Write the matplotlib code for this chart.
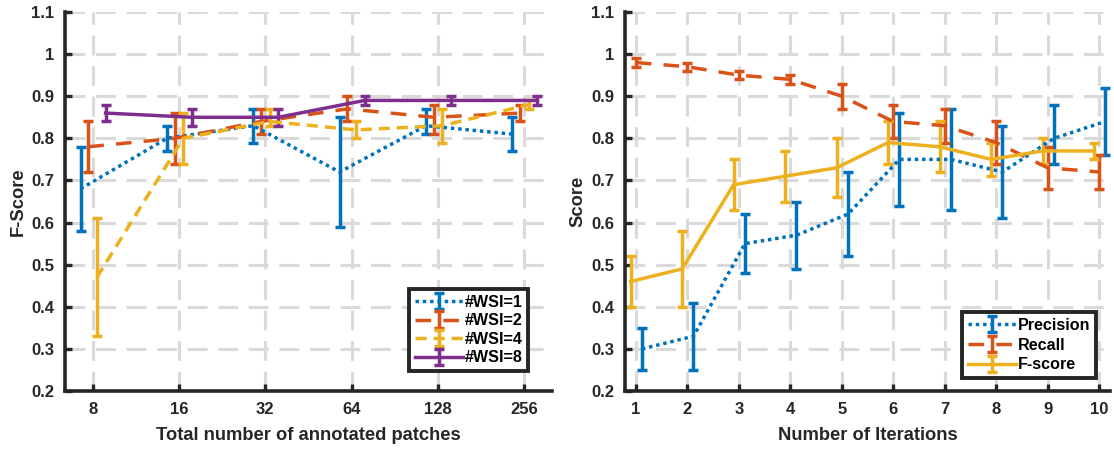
import matplotlib
matplotlib.use("Agg")
import matplotlib.pyplot as plt
import numpy as np

plt.rcParams['font.family'] = ['Liberation Sans', 'DejaVu Sans']
plt.rcParams['font.weight'] = 'bold'

# ---------------- Left panel data ----------------
patch_labels = ['8', '16', '32', '64', '128', '256']
wsi_names = ['#WSI=1', '#WSI=2', '#WSI=4', '#WSI=8']
wsi1_mean = [0.68, 0.80, 0.83, 0.72, 0.83, 0.81]
wsi1_low = [0.58, 0.77, 0.79, 0.59, 0.81, 0.77]
wsi1_high = [0.78, 0.83, 0.87, 0.85, 0.87, 0.85]
wsi2_mean = [0.78, 0.80, 0.84, 0.87, 0.85, 0.86]
wsi2_low = [0.72, 0.74, 0.81, 0.84, 0.81, 0.84]
wsi2_high = [0.84, 0.86, 0.87, 0.90, 0.88, 0.88]
wsi4_mean = [0.47, 0.80, 0.84, 0.82, 0.83, 0.88]
wsi4_low = [0.33, 0.74, 0.83, 0.80, 0.79, 0.87]
wsi4_high = [0.61, 0.86, 0.87, 0.84, 0.87, 0.89]
wsi8_mean = [0.86, 0.85, 0.85, 0.89, 0.89, 0.89]
wsi8_low = [0.84, 0.83, 0.83, 0.88, 0.88, 0.88]
wsi8_high = [0.88, 0.87, 0.87, 0.90, 0.90, 0.90]

# ---------------- Right panel data ----------------
iterations = [1, 2, 3, 4, 5, 6, 7, 8, 9, 10]
prec_mean = [0.30, 0.33, 0.55, 0.57, 0.62, 0.75, 0.75, 0.72, 0.80, 0.84]
prec_low = [0.25, 0.25, 0.48, 0.49, 0.52, 0.64, 0.63, 0.61, 0.74, 0.76]
prec_high = [0.35, 0.41, 0.62, 0.65, 0.72, 0.86, 0.87, 0.83, 0.88, 0.92]
rec_mean = [0.98, 0.97, 0.95, 0.94, 0.90, 0.84, 0.83, 0.79, 0.73, 0.72]
rec_low = [0.97, 0.96, 0.94, 0.93, 0.87, 0.80, 0.79, 0.74, 0.68, 0.68]
rec_high = [0.99, 0.98, 0.96, 0.95, 0.93, 0.88, 0.87, 0.84, 0.78, 0.76]
f_mean = [0.46, 0.49, 0.69, 0.71, 0.73, 0.79, 0.78, 0.75, 0.77, 0.77]
f_low = [0.40, 0.40, 0.63, 0.65, 0.66, 0.74, 0.72, 0.71, 0.74, 0.75]
f_high = [0.52, 0.58, 0.75, 0.77, 0.80, 0.84, 0.84, 0.79, 0.80, 0.79]

C_BLUE = '#0072BD'
C_ORANGE = '#D95319'
C_YELLOW = '#EDB120'
C_PURPLE = '#7E2F8E'
C_TEXT = '#262626'

fig = plt.figure(figsize=(11.14, 4.51), dpi=100)
axL = fig.add_axes([65 / 1114, 60 / 451, 487 / 1114, 379 / 451])
axR = fig.add_axes([625 / 1114, 60 / 451, 485 / 1114, 379 / 451])

LW = 2.5
CAP = 3.4
CAPT = 2.5

def style_ax(ax):
    for s in ['top', 'right']:
        ax.spines[s].set_visible(False)
    for s in ['left', 'bottom']:
        ax.spines[s].set_linewidth(2.6)
        ax.spines[s].set_color(C_TEXT)
    ax.tick_params(direction='in', length=5, width=2.4, colors=C_TEXT,
                   labelsize=12, pad=8)
    ax.grid(True, color='#dadada', linewidth=2.2, linestyle=(0, (6.5, 3.5)))
    ax.set_axisbelow(True)
    ax.set_ylim(0.2, 1.1)
    ax.set_yticks(np.arange(0.2, 1.11, 0.1))
    ax.set_yticklabels(['0.2', '0.3', '0.4', '0.5', '0.6', '0.7', '0.8', '0.9', '1', '1.1'])
    for lbl in ax.get_xticklabels() + ax.get_yticklabels():
        lbl.set_fontweight('bold')

def eb(ax, x, m, lo, hi, color, ls, label):
    m = np.array(m); lo = np.array(lo); hi = np.array(hi)
    yerr = np.vstack([m - lo, hi - m])
    ax.errorbar(x, m, yerr=yerr, color=color, linestyle=ls, linewidth=LW,
                elinewidth=LW, capsize=CAP, capthick=CAPT, label=label)

def style_legend(leg):
    leg.get_frame().set_edgecolor(C_TEXT)
    leg.get_frame().set_linewidth(2.8)
    for t in leg.get_texts():
        t.set_fontweight('bold')
        t.set_color('black')

# Left panel
idx = np.arange(len(patch_labels))
offs = [-0.14, -0.05, 0.05, 0.15]
eb(axL, idx + offs[0], wsi1_mean, wsi1_low, wsi1_high, C_BLUE, (0, (1, 1.1)), wsi_names[0])
eb(axL, idx + offs[1], wsi2_mean, wsi2_low, wsi2_high, C_ORANGE, (0, (4.5, 3.5)), wsi_names[1])
eb(axL, idx + offs[2], wsi4_mean, wsi4_low, wsi4_high, C_YELLOW, (0, (3.2, 2)), wsi_names[2])
eb(axL, idx + offs[3], wsi8_mean, wsi8_low, wsi8_high, C_PURPLE, '-', wsi_names[3])
axL.set_xlim(-0.32, 5.32)
axL.set_xticks(idx)
axL.set_xticklabels(patch_labels)
style_ax(axL)
axL.set_xlabel('Total number of annotated patches', fontsize=13.2, fontweight='bold', color=C_TEXT, labelpad=7)
axL.set_ylabel('F-Score', fontsize=13.2, fontweight='bold', color=C_TEXT, labelpad=3)
legL = axL.legend(loc='lower right', bbox_to_anchor=(0.951, 0.053), fontsize=11.6,
                  frameon=True, fancybox=False, framealpha=1, handlelength=3.0,
                  handletextpad=0.1, borderpad=0.35, labelspacing=0.22, borderaxespad=0)
style_legend(legL)

# Right panel
it = np.array(iterations)
eb(axR, it + 0.12, prec_mean, prec_low, prec_high, C_BLUE, (0, (1, 1.1)), 'Precision')
eb(axR, it + 0.0, rec_mean, rec_low, rec_high, C_ORANGE, (0, (4.5, 3.5)), 'Recall')
eb(axR, it - 0.1, f_mean, f_low, f_high, C_YELLOW, '-', 'F-score')
axR.set_xlim(0.79, 10.21)
axR.set_xticks(iterations)
style_ax(axR)
axR.set_xlabel('Number of Iterations', fontsize=13.2, fontweight='bold', color=C_TEXT, labelpad=7)
axR.set_ylabel('Score', fontsize=13.2, fontweight='bold', color=C_TEXT, labelpad=3)
legR = axR.legend(loc='lower right', bbox_to_anchor=(0.971, 0.034), fontsize=11.6,
                  frameon=True, fancybox=False, framealpha=1, handlelength=3.0,
                  handletextpad=0.1, borderpad=0.35, labelspacing=0.3, borderaxespad=0)
style_legend(legR)

fig.savefig('out.png', dpi=100)
